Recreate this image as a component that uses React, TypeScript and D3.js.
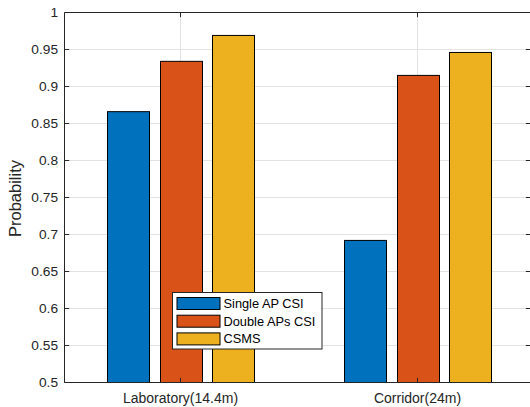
import React from "react";
import * as d3 from "d3";

const categories = ["Laboratory(14.4m)", "Corridor(24m)"];
const seriesNames = ["Single AP CSI", "Double APs CSI", "CSMS"];
const singleAP = [0.866, 0.692];
const doubleAP = [0.934, 0.915];
const csms = [0.969, 0.946];
const yTicks = [0.5, 0.55, 0.6, 0.65, 0.7, 0.75, 0.8, 0.85, 0.9, 0.95, 1];

const colors = ["#0072BD", "#D95319", "#EDB120"];
const series = [singleAP, doubleAP, csms];

const W = 530;
const H = 407;
const left = 64.5;
const right = 530.5;
const top = 12.5;
const bottom = 382.5;

export default function App() {
  const x = d3.scaleLinear().domain([1, 2]).range([180.5, 417.5]);
  const y = d3.scaleLinear().domain([0.5, 1]).range([bottom, top]);
  const step = 52.5;
  const barW = 42;
  const tick = 4.7;
  const font = "Liberation Sans, Arial, Helvetica, sans-serif";
  const axisColor = "#262626";

  return (
    <svg
      width={W}
      height={H}
      style={{ position: "absolute", left: 0, top: 0, background: "#fff" }}
    >
      <rect x={0} y={0} width={W} height={H} fill="#fff" />
      {/* grid */}
      {yTicks.map((t) => (
        <line key={"gy" + t} x1={left} x2={right} y1={y(t)} y2={y(t)} stroke="#e3e3e3" strokeWidth={1} />
      ))}
      {categories.map((c, i) => (
        <line key={"gx" + c} x1={x(i + 1)} x2={x(i + 1)} y1={top} y2={bottom} stroke="#e3e3e3" strokeWidth={1} />
      ))}
      {/* bars */}
      {categories.map((c, ci) =>
        series.map((s, si) => {
          const cx = x(ci + 1) + (si - 1) * step;
          return (
            <rect
              key={c + si}
              x={Math.round(cx - barW / 2) + 0.5}
              y={y(s[ci])}
              width={barW}
              height={bottom - y(s[ci])}
              fill={colors[si]}
              stroke="#000"
              strokeWidth={1}
            />
          );
        })
      )}
      {/* axes box */}
      <path
        d={`M${left},${top}H${right}V${bottom}H${left}Z`}
        fill="none"
        stroke={axisColor}
        strokeWidth={1}
      />
      {yTicks.map((t) => (
        <g key={"ty" + t}>
          <line x1={left} x2={left + tick} y1={y(t)} y2={y(t)} stroke={axisColor} />
          <line x1={right} x2={right - tick} y1={y(t)} y2={y(t)} stroke={axisColor} />
          <text
            x={left - 6.5}
            y={y(t)}
            dy="0.35em"
            textAnchor="end"
            fontFamily={font}
            fontSize={13.7}
            fill={axisColor}
          >
            {String(t)}
          </text>
        </g>
      ))}
      {categories.map((c, i) => (
        <g key={"tx" + c}>
          <line x1={x(i + 1)} x2={x(i + 1)} y1={bottom} y2={bottom - tick} stroke={axisColor} />
          <line x1={x(i + 1)} x2={x(i + 1)} y1={top} y2={top + tick} stroke={axisColor} />
          <text
            x={x(i + 1)}
            y={bottom + 20.5}
            textAnchor="middle"
            fontFamily={font}
            fontSize={14}
            fill={axisColor}
          >
            {c}
          </text>
        </g>
      ))}
      <text
        transform={`translate(21,${(top + bottom) / 2 + 1}) rotate(-90)`}
        textAnchor="middle"
        fontFamily={font}
        fontSize={16.5}
        fill={axisColor}
      >
        Probability
      </text>
      {/* legend */}
      <g>
        <rect x={172.5} y={292.5} width={149.5} height={56.5} fill="#fff" stroke={axisColor} strokeWidth={1} />
        {seriesNames.map((n, i) => (
          <g key={n}>
            <rect
              x={177}
              y={297.5 + i * 17.7}
              width={43}
              height={12}
              fill={colors[i]}
              stroke="#000"
              strokeWidth={1}
            />
            <text
              x={223.5}
              y={303.5 + i * 17.7}
              dy="0.35em"
              fontFamily={font}
              fontSize={12.8}
              fill="#000"
            >
              {n}
            </text>
          </g>
        ))}
      </g>
    </svg>
  );
}
